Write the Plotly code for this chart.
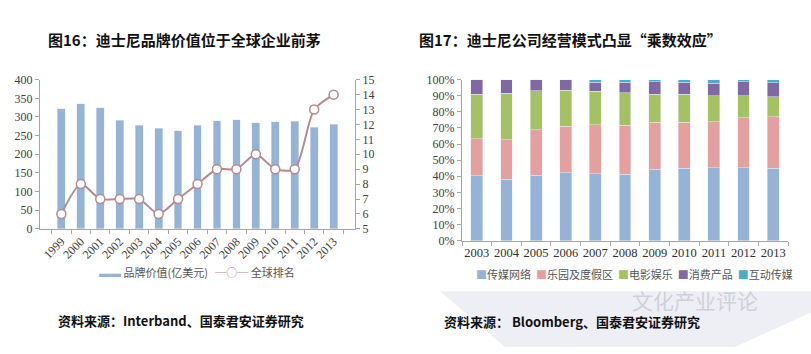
import plotly.graph_objects as go

# ---------------- data ----------------
years_left = ["1999", "2000", "2001", "2002", "2003", "2004", "2005", "2006",
              "2007", "2008", "2009", "2010", "2011", "2012", "2013"]
brand_value = [322, 335, 325, 291, 278, 270, 263, 278, 290, 292, 284, 287, 289, 273, 280]
global_rank = [6, 8, 7, 7, 7, 6, 7, 8, 9, 9, 10, 9, 9, 13, 14]

years_right = ["2003", "2004", "2005", "2006", "2007", "2008", "2009", "2010", "2011", "2012", "2013"]
media_networks = [40.2, 38.2, 40.8, 42.3, 41.7, 41.4, 44.3, 45.1, 45.3, 45.3, 45.1]
parks_resorts = [23.0, 24.4, 28.2, 28.7, 30.3, 30.2, 29.3, 28.5, 28.7, 31.2, 31.9]
studio_ent = [27.8, 28.9, 24.0, 22.4, 20.8, 20.2, 17.4, 17.3, 16.0, 13.5, 12.3]
consumer_prod = [9.0, 8.5, 7.0, 6.6, 5.6, 6.6, 7.6, 7.5, 7.8, 8.6, 8.9]
interactive = [0.0, 0.0, 0.0, 0.0, 1.6, 1.6, 1.4, 1.6, 2.2, 1.4, 1.8]

right_series = [
    ("传媒网络", media_networks, "#95B3D7"),
    ("乐园及度假区", parks_resorts, "#E3A09F"),
    ("电影娱乐", studio_ent, "#A4C164"),
    ("消费产品", consumer_prod, "#8068A5"),
    ("互动传媒", interactive, "#4BACC6"),
]

bar_blue = "#95B3D7"
line_col = "#B48A8C"
axis_col = "#A6A6A6"
SERIF = "Times New Roman"
tick_font = dict(family=SERIF, size=12, color="#404040")
W, H = 811, 354

fig = go.Figure()

fig.add_trace(go.Bar(x=years_left, y=brand_value, marker_color=bar_blue, width=0.4,
                     xaxis="x", yaxis="y", showlegend=False, name="品牌价值(亿美元)"))
fig.add_trace(go.Scatter(x=years_left, y=global_rank, mode="lines+markers",
                         line=dict(color=line_col, width=2, shape="spline", smoothing=0.7),
                         marker=dict(symbol="circle", size=9, color="white",
                                     line=dict(color=line_col, width=1.5)),
                         xaxis="x", yaxis="y2", showlegend=False, name="全球排名"))

for name, vals, col in right_series:
    fig.add_trace(go.Bar(x=years_right, y=vals, name=name, marker_color=col, width=0.4,
                         xaxis="x2", yaxis="y3", showlegend=False))

def px_x(p):
    return p / W

def px_y(p):
    return 1 - p / H

common_axis = dict(showline=True, linecolor=axis_col, linewidth=1, ticks="outside",
                   tickcolor=axis_col, ticklen=4, showgrid=False, zeroline=False)

fig.update_layout(
    width=W, height=H, margin=dict(l=0, r=0, t=0, b=0),
    paper_bgcolor="white", plot_bgcolor="rgba(0,0,0,0)",
    barmode="stack", showlegend=False,
    xaxis=dict(domain=[px_x(40), px_x(355)], anchor="y", type="category",
               tickangle=-45, tickson="boundaries", tickfont=tick_font, **common_axis),
    yaxis=dict(domain=[px_y(231), px_y(75.7)], anchor="x", range=[0, 400], dtick=50,
               tickfont=tick_font, **common_axis),
    yaxis2=dict(overlaying="y", side="right", anchor="x", range=[5, 15], dtick=1,
                tickfont=tick_font, **common_axis),
    xaxis2=dict(domain=[px_x(462), px_x(788)], anchor="y3", type="category",
                tickson="boundaries", tickangle=0,
                tickfont=dict(family=SERIF, size=12.5, color="#303030"), **common_axis),
    yaxis3=dict(domain=[px_y(243.3), px_y(75.7)], anchor="x2", range=[0, 100], dtick=10,
                ticksuffix="%", tickfont=tick_font, **common_axis),
)

# background decoration
fig.add_shape(type="path", xref="paper", yref="paper", layer="below",
              path=f"M {px_x(440)} {px_y(296)} L {px_x(811)} {px_y(296)} L {px_x(811)} {px_y(318)} "
                   f"L {px_x(735)} {px_y(354)} L {px_x(505)} {px_y(354)} Z",
              fillcolor="#EEEEF5", line=dict(width=0))

title_font = dict(family="Noto Sans CJK SC", size=15, color="#111111")
fig.add_annotation(text="<b>图16：迪士尼品牌价值位于全球企业前茅</b>", xref="paper", yref="paper",
                   x=px_x(46), y=px_y(34), xanchor="left", yanchor="middle", showarrow=False,
                   font=title_font)
fig.add_annotation(text="<b>图17：迪士尼公司经营模式凸显“乘数效应”</b>", xref="paper", yref="paper",
                   x=px_x(417), y=px_y(34), xanchor="left", yanchor="middle", showarrow=False,
                   font=title_font)

src_font = dict(family="Noto Sans CJK SC", size=13, color="#111111")
fig.add_annotation(text="<b>资料来源：Interband、国泰君安证券研究</b>", xref="paper", yref="paper",
                   x=px_x(56), y=px_y(326), xanchor="left", yanchor="middle", showarrow=False,
                   font=src_font)
fig.add_annotation(text="<b>资料来源： Bloomberg、国泰君安证券研究</b>", xref="paper", yref="paper",
                   x=px_x(442), y=px_y(327), xanchor="left", yanchor="middle", showarrow=False,
                   font=src_font)

# watermark
fig.add_annotation(text="文化产业评论", xref="paper", yref="paper",
                   x=px_x(630), y=px_y(305), xanchor="left", yanchor="middle", showarrow=False,
                   font=dict(family="Noto Sans CJK SC", size=21, color="rgba(200,200,210,0.8)"))

# legends (drawn as text)
leg_font = dict(family="Noto Sans CJK SC", size=11, color="#555555")
left_leg = (f"<span style='color:{bar_blue}'>▬▬</span> 品牌价值(亿美元)   "
            f"<span style='color:{line_col}'>─○─</span> 全球排名")
fig.add_annotation(text=left_leg, xref="paper", yref="paper", x=px_x(197), y=px_y(276),
                   xanchor="center", yanchor="middle", showarrow=False, font=leg_font)

right_leg = "  ".join(f"<span style='color:{col}'>■</span>{name}" for name, _, col in right_series)
fig.add_annotation(text=right_leg, xref="paper", yref="paper", x=px_x(634), y=px_y(278),
                   xanchor="center", yanchor="middle", showarrow=False, font=leg_font)

fig.write_html("out.html")
